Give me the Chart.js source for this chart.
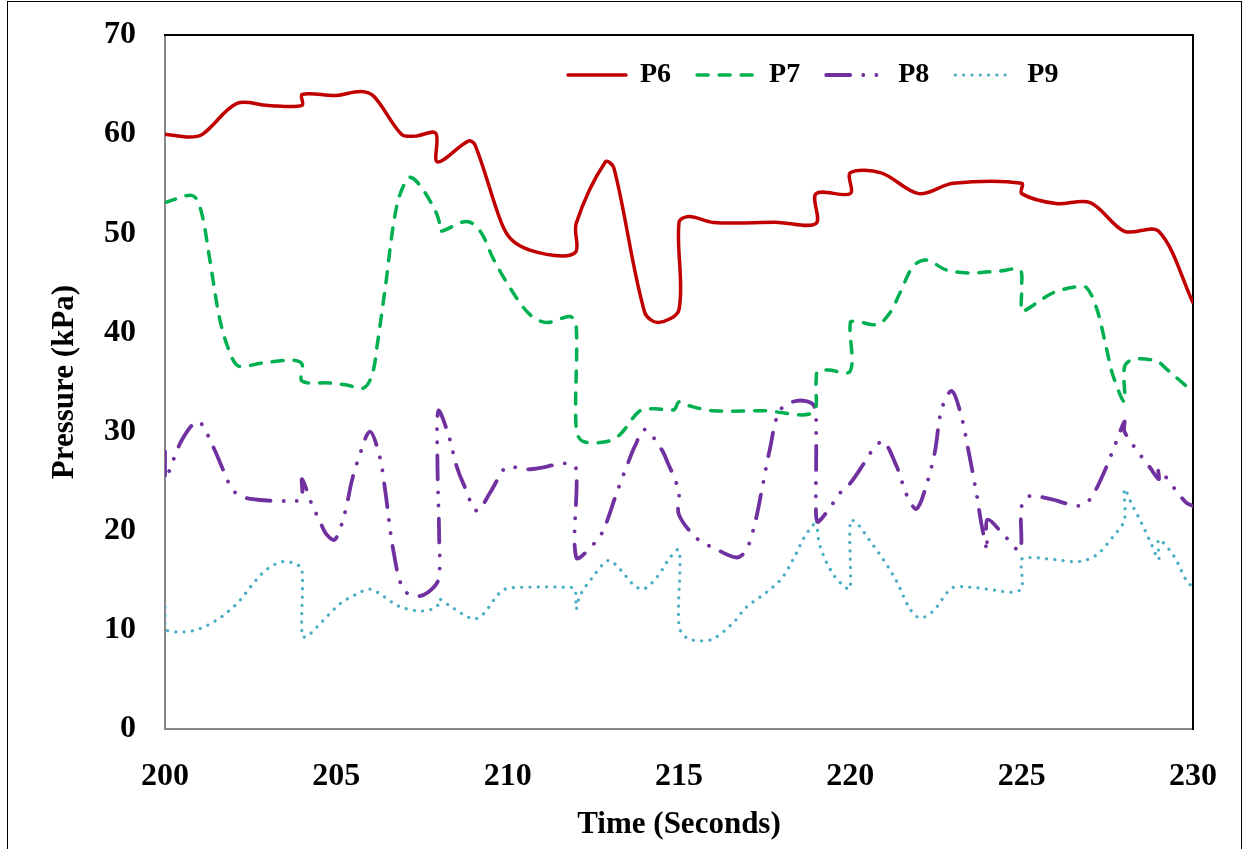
<!DOCTYPE html>
<html>
<head>
<meta charset="utf-8">
<script src="https://cdn.jsdelivr.net/npm/chart.js@4.4.1/dist/chart.umd.min.js"></script>
<style>
  body { margin: 0; background: #fff; }
  #wrap { position: relative; width: 1244px; height: 849px; overflow: hidden; }
  #frame { position: absolute; left: 7px; top: 1px; width: 1233px; height: 900px; border: 1.5px solid #000; pointer-events: none; }
</style>
</head>
<body>
<div id="wrap">
  <canvas id="pressureChart" width="1244" height="849"></canvas>
  <div id="frame"></div>
</div>
<script>
// values
const seriesNames = ['P6', 'P7', 'P8', 'P9'];
const timeTicks = [200, 205, 210, 215, 220, 225, 230];
const pressureTicks = [0, 10, 20, 30, 40, 50, 60, 70];

const timeP6 = [200, 200.7, 201.1, 202.1, 203, 204, 204, 205, 205.7, 206.1, 206.9, 207.3, 207.9, 207.95, 208.85, 209.05, 209.8, 210.1, 210.65, 211.6, 212, 212, 212.85, 213.1, 214, 214.4, 215, 215, 215.3, 216, 217.9, 219, 219, 220, 220, 220.9, 222, 223, 225, 225, 226, 227, 228, 229, 230];
const pressureP6 = [60.0, 59.7, 60.0, 63.1, 62.9, 62.9, 64.0, 63.9, 64.3, 63.8, 60.0, 59.8, 60.1, 57.2, 59.3, 58.9, 51.2, 49.4, 48.3, 47.7, 48.2, 51.0, 57.2, 56.6, 42.0, 41.0, 42.3, 51.1, 51.7, 51.1, 51.1, 51.0, 54.0, 54.0, 56.1, 56.1, 54.0, 55.05, 55.05, 54.0, 53.0, 53.1, 50.2, 50.2, 43.0];

const timeP7 = [200, 200.8, 201.05, 201.3, 201.6, 201.9, 202.15, 202.8, 203.7, 204, 204, 204.8, 205.3, 205.8, 206.05, 206.2, 206.42, 206.76, 207.1, 207.35, 207.83, 208, 208.02, 208.8, 209.2, 209.6, 210.16, 210.65, 211.14, 211.82, 212, 212, 212.2, 212.9, 213.28, 213.86, 214.3, 214.85, 215, 215.3, 216, 217.5, 218.9, 219, 219.05, 219.36, 220, 220, 220.2, 220.8, 221.16, 221.45, 221.84, 222.23, 222.8, 223.5, 224.36, 224.95, 225, 225, 225.14, 225.92, 226.6, 226.9, 227.2, 227.48, 227.67, 228, 228, 228.26, 228.94, 229.23, 230];
const pressureP7 = [53.1, 53.8, 52.3, 47.5, 41.3, 37.9, 36.6, 36.9, 37.2, 36.8, 35.1, 34.9, 34.7, 34.4, 35.8, 38.9, 44.3, 52.7, 55.6, 55.2, 52.7, 51.2, 50.2, 51.2, 50.2, 47.3, 44.0, 41.8, 41.0, 41.6, 40.8, 30.2, 29.0, 29.0, 29.7, 32.1, 32.3, 32.2, 33.0, 32.6, 32.1, 32.1, 31.9, 35.0, 36.1, 36.2, 36.1, 41.0, 41.1, 40.8, 42.0, 44.0, 46.7, 47.3, 46.3, 46.0, 46.2, 46.3, 44.6, 42.1, 42.3, 44.0, 44.6, 44.5, 42.3, 38.3, 35.6, 33.0, 36.5, 37.3, 37.1, 36.3, 34.0];

const timeP8 = [200, 200, 200.5, 200.97, 201.4, 201.75, 202, 202.5, 203.85, 204, 204, 204.28, 204.5, 204.72, 204.96, 205.25, 205.45, 205.64, 205.98, 206.27, 206.42, 206.66, 206.95, 207.34, 207.68, 207.98, 208, 207.95, 207.98, 208.27, 208.51, 208.7, 209.1, 209.48, 209.73, 209.97, 210.65, 211.77, 212, 212, 212.55, 212.8, 213.18, 213.52, 213.71, 214, 214.49, 214.69, 214.88, 215, 215, 215.56, 216, 216.68, 216.97, 217.22, 217.41, 217.65, 217.94, 218.43, 218.92, 219, 219, 219.07, 219.5, 219.79, 220, 220.38, 220.62, 220.96, 221.35, 221.5, 221.66, 221.93, 222.23, 222.47, 222.66, 222.96, 223.25, 223.44, 223.68, 223.83, 224, 224, 224.55, 224.95, 225, 225.24, 225.82, 226.7, 227, 227.38, 227.73, 228, 228, 228.45, 228.74, 229, 229, 229.52, 229.81, 230];
const pressureP8 = [28.0, 25.2, 29.2, 31.0, 28.5, 25.7, 24.0, 23.2, 23.0, 23.2, 25.2, 22.7, 21.1, 19.6, 19.1, 21.8, 25.0, 27.2, 30.0, 27.4, 24.2, 18.1, 14.1, 13.4, 13.8, 15.1, 19.5, 27.2, 32.1, 29.7, 26.5, 24.8, 22.0, 23.8, 25.3, 26.4, 26.2, 26.8, 26.2, 17.3, 18.8, 20.1, 23.8, 26.9, 28.5, 30.2, 28.2, 26.7, 25.2, 23.8, 21.6, 19.1, 18.3, 17.3, 18.1, 20.8, 24.0, 28.2, 32.1, 33.1, 32.7, 30.2, 21.5, 20.9, 22.8, 24.2, 24.8, 26.7, 28.0, 29.0, 26.5, 25.0, 23.5, 22.2, 24.7, 28.0, 32.2, 34.1, 31.4, 28.2, 23.8, 20.6, 18.0, 21.1, 19.3, 18.0, 22.5, 23.5, 23.2, 22.5, 23.2, 25.7, 28.7, 31.0, 30.0, 27.7, 26.4, 25.2, 26.2, 24.0, 22.8, 22.5];

const timeP9 = [200, 200, 200.5, 201, 201.6, 202.14, 202.58, 202.97, 203.45, 203.84, 204, 204, 204.13, 204.52, 205.1, 205.59, 205.98, 206.37, 206.81, 207.44, 207.93, 208, 208.36, 209, 209.29, 209.68, 209.92, 210.46, 211.72, 211.96, 212, 212.1, 212.5, 212.94, 213.28, 213.66, 213.96, 214.35, 214.74, 214.98, 215.03, 215, 215.22, 215.61, 216, 216.58, 216.97, 217.56, 218, 218.33, 218.68, 218.92, 219, 219.11, 219.5, 219.89, 220, 220, 220.18, 220.57, 220.96, 221.35, 221.74, 222.03, 222.42, 222.96, 223.49, 224.22, 224.71, 225, 225, 225.24, 225.92, 226.7, 227.2, 227.69, 228, 228, 228.21, 228.45, 228.74, 229, 229, 229.43, 229.82, 230];
const pressureP9 = [12.3, 10.1, 9.8, 10.1, 11.2, 12.8, 14.7, 16.1, 16.9, 16.6, 16.1, 9.4, 9.3, 10.6, 12.6, 13.6, 14.1, 13.4, 12.4, 11.9, 12.3, 13.1, 12.3, 11.1, 11.6, 13.4, 14.1, 14.3, 14.3, 14.1, 12.1, 13.4, 15.4, 17.0, 16.1, 14.6, 14.1, 15.3, 17.3, 18.1, 16.8, 10.4, 9.2, 8.9, 9.1, 10.7, 12.3, 13.8, 15.2, 17.1, 19.5, 20.6, 21.1, 18.5, 15.6, 14.2, 14.2, 21.0, 20.8, 19.0, 17.1, 14.9, 12.1, 11.2, 11.9, 14.2, 14.3, 14.0, 13.8, 14.2, 17.1, 17.3, 17.1, 16.9, 17.6, 19.5, 21.1, 24.2, 22.7, 21.1, 19.0, 17.1, 19.1, 17.5, 14.9, 14.3];

const toPoints = (xs, ys) => xs.map((x, i) => ({ x: x, y: ys[i] }));

Chart.defaults.font.family = "'Liberation Serif', 'Times New Roman', serif";
Chart.defaults.font.weight = 'bold';
Chart.defaults.color = '#000';

// keep the legend out of the layout and put it inside the plot, top right
const legendInside = {
  id: 'legendInside',
  beforeInit(chart) {
    const legend = chart.legend;
    const fit = legend.fit;
    legend.fit = function () {
      fit.call(this);
      this.height = 0;
    };
  },
  afterLayout(chart) {
    const legend = chart.legend;
    const area = chart.chartArea;
    legend.left = area.left + 377;
    legend.right = area.right;
    legend.top = area.top;
    legend.bottom = area.top + 70;
  }
};

function lineSet(label, xs, ys, color, width, dash) {
  return {
    label: label,
    data: toPoints(xs, ys),
    showLine: true,
    borderColor: color,
    backgroundColor: color,
    borderWidth: width,
    borderDash: dash,
    borderCapStyle: 'round',
    borderJoinStyle: 'round',
    pointRadius: 0,
    pointHoverRadius: 0,
    tension: 0.33
  };
}

// legend samples should use the dataset line style, not the point style
function legendLabels(chart) {
  const items = Chart.defaults.plugins.legend.labels.generateLabels(chart);
  items.forEach(item => {
    const ds = chart.data.datasets[item.datasetIndex];
    item.lineDash = ds.borderDash;
    item.lineCap = 'round';
    item.lineWidth = ds.borderWidth;
    item.strokeStyle = ds.borderColor;
    item.fillStyle = ds.borderColor;
  });
  return items;
}

const ctx = document.getElementById('pressureChart').getContext('2d');
new Chart(ctx, {
  type: 'scatter',
  data: {
    datasets: [
      lineSet(seriesNames[0], timeP6, pressureP6, '#C00000', 3.5, []),
      lineSet(seriesNames[1], timeP7, pressureP7, '#00B050', 3.5, [11, 11]),
      lineSet(seriesNames[2], timeP8, pressureP8, '#7030A0', 3.8, [24, 13, 0.1, 13, 0.1, 13]),
      lineSet(seriesNames[3], timeP9, pressureP9, '#4BACC6', 3.2, [0.1, 8.2])
    ]
  },
  options: {
    responsive: false,
    animation: false,
    devicePixelRatio: 1,
    layout: { padding: { top: 35, right: 51, bottom: 0, left: 0 } },
    plugins: {
      tooltip: { enabled: false },
      legend: {
        position: 'top',
        align: 'start',
        labels: {
          usePointStyle: true,
          pointStyle: 'line',
          pointStyleWidth: 58,
          padding: 26,
          color: '#000',
          font: { size: 28, weight: 'bold' },
          generateLabels: legendLabels
        }
      }
    },
    scales: {
      x: {
        type: 'linear',
        position: 'bottom',
        min: 200,
        max: 230,
        afterBuildTicks: (scale) => { scale.ticks = timeTicks.map(v => ({ value: v })); },
        afterFit: (scale) => {
          scale.height = 120;
          scale.paddingLeft = 0;
          scale.paddingRight = 0;
        },
        grid: { display: false, drawTicks: false },
        border: { display: true, color: '#868686', width: 2 },
        ticks: { padding: 29, maxRotation: 0, color: '#000', font: { size: 32, weight: 'bold' } },
        title: {
          display: true,
          text: 'Time (Seconds)',
          color: '#000',
          padding: { top: 0, bottom: 5 },
          font: { size: 31, weight: 'bold' }
        }
      },
      y: {
        type: 'linear',
        position: 'left',
        min: 0,
        max: 70,
        afterBuildTicks: (scale) => { scale.ticks = pressureTicks.map(v => ({ value: v })); },
        afterFit: (scale) => {
          scale.width = 165;
          scale.paddingTop = 0;
          scale.paddingBottom = 0;
        },
        grid: { display: false, drawTicks: false },
        border: { display: true, color: '#868686', width: 2 },
        ticks: { padding: 29, color: '#000', font: { size: 32, weight: 'bold' } },
        title: {
          display: true,
          text: 'Pressure (kPa)',
          color: '#000',
          padding: { top: 46, bottom: 0 },
          font: { size: 31, weight: 'bold' }
        }
      },
      xTop: {
        type: 'linear',
        position: 'top',
        min: 200,
        max: 230,
        afterFit: (scale) => { scale.height = 0; },
        grid: { display: false, drawTicks: false },
        border: { display: true, color: '#000', width: 2 },
        ticks: { display: false }
      },
      yRight: {
        type: 'linear',
        position: 'right',
        min: 0,
        max: 70,
        afterFit: (scale) => { scale.width = 0; },
        grid: { display: false, drawTicks: false },
        border: { display: true, color: '#000', width: 2 },
        ticks: { display: false }
      }
    }
  },
  plugins: [legendInside]
});
</script>
</body>
</html>
